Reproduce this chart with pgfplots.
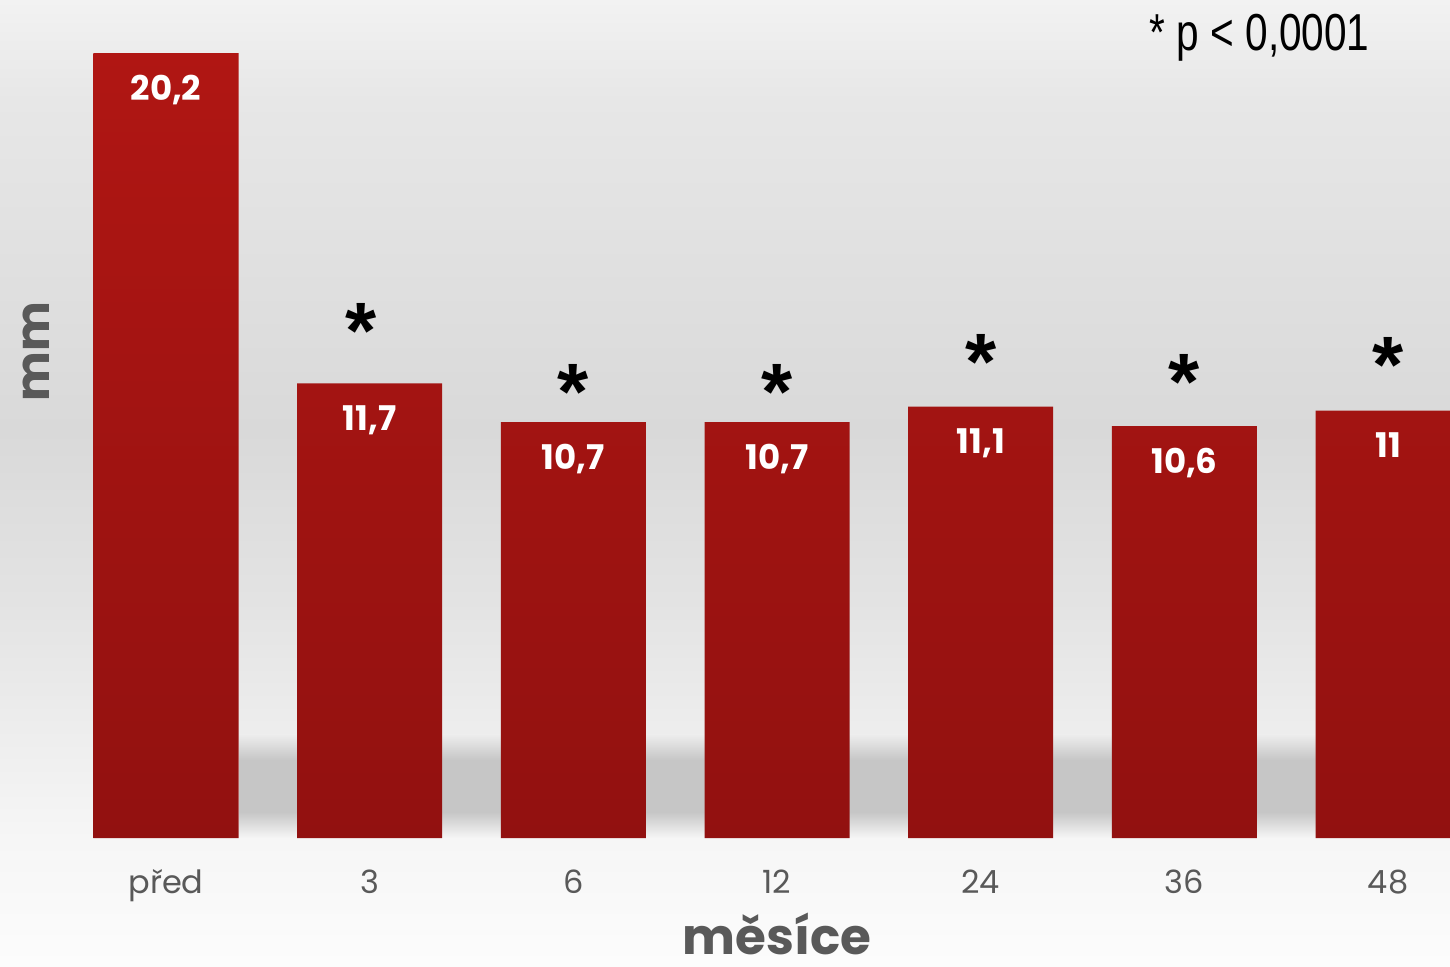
\documentclass[border=0pt]{standalone}
\usepackage{pgfplots}
\pgfplotsset{compat=1.18}
\usepackage{fontspec}
\setmainfont{Poppins}
\newfontfamily\narrowfont[FakeStretch=0.78]{Liberation Sans}
\newfontfamily\starfont{Liberation Sans}
\definecolor{lab}{HTML}{595959}
\definecolor{bartop}{HTML}{B01613}
\definecolor{barbot}{HTML}{921110}
\definecolor{shadowc}{HTML}{C6C6C6}
\definecolor{bgA}{HTML}{FCFCFC}
\definecolor{bgB}{HTML}{F6F6F6}
\definecolor{bgC}{HTML}{EEEEEE}
\definecolor{bgD}{HTML}{E3E3E3}
\definecolor{bgE}{HTML}{D9D9D9}
\definecolor{bgF}{HTML}{E7E7E7}
\definecolor{bgG}{HTML}{F2F2F2}
\pgfdeclareverticalshading{bgshade}{100bp}{color(0bp)=(bgA); color(25bp)=(bgA); color(31.52bp)=(bgB); color(36.7bp)=(bgC); color(43.94bp)=(bgD); color(52.74bp)=(bgE); color(69.82bp)=(bgF); color(75bp)=(bgG); color(100bp)=(bgG)}

\pgfplotstableread{
x y
0 20.2
1 11.7
2 10.7
3 10.7
4 11.1
5 10.6
6 11
}\datatable

\begin{document}
\begin{tikzpicture}
% background
\shade[shading=bgshade] (0,-64pt) rectangle (725pt,419pt);
% soft floor shadow band
\shade[top color=bgC, bottom color=shadowc] (119.5pt,52pt) rectangle (725pt,39pt);
\fill[shadowc] (119.5pt,39pt) rectangle (725pt,13pt);
\shade[top color=shadowc, bottom color=bgB] (119.5pt,13pt) rectangle (725pt,0pt);
\begin{axis}[
  at={(0,0)}, anchor=south west,
  scale only axis, width=725pt, height=419pt,
  xmin=-0.815, xmax=6.304, ymin=0, ymax=21.564,
  axis line style={draw=none},
  major tick length=0pt,
  ytick=\empty,
  xtick={0,1,2,3,4,5,6},
  xticklabels={před,3,6,12,24,36,48},
  xticklabel style={font=\fontsize{16}{18}\selectfont, text=lab, anchor=base, yshift=-27.5pt},
  xlabel={měsíce},
  xlabel style={font=\bfseries\fontsize{25}{25}\selectfont, text=lab, at={(axis description cs:0.536,0)}, anchor=base, yshift=-58pt},
  ylabel={mm},
  ylabel style={font=\bfseries\fontsize{23.5}{24}\selectfont, text=lab, at={(axis description cs:0.0338,0.58)}, anchor=base},
  /pgf/number format/use comma,
  /pgf/number format/assume math mode=true,
  ybar, bar width=0.712,
  nodes near coords,
  nodes near coords align={below},
  every node near coord/.append style={font=\bfseries\fontsize{17}{18}\selectfont, text=white, inner sep=0pt, yshift=-11pt},
]
\addplot[draw=none, top color=bartop, bottom color=barbot] table[x=x,y=y] {\datatable};
\node[font=\starfont\bfseries\fontsize{40}{40}\selectfont, anchor=north, inner sep=0pt] at (axis cs:0.957,13.77) {*};
\node[font=\starfont\bfseries\fontsize{40}{40}\selectfont, anchor=north, inner sep=0pt] at (axis cs:2,12.20) {*};
\node[font=\starfont\bfseries\fontsize{40}{40}\selectfont, anchor=north, inner sep=0pt] at (axis cs:3,12.20) {*};
\node[font=\starfont\bfseries\fontsize{40}{40}\selectfont, anchor=north, inner sep=0pt] at (axis cs:4,12.97) {*};
\node[font=\starfont\bfseries\fontsize{40}{40}\selectfont, anchor=north, inner sep=0pt] at (axis cs:5,12.46) {*};
\node[font=\starfont\bfseries\fontsize{40}{40}\selectfont, anchor=north, inner sep=0pt] at (axis cs:6,12.89) {*};
\node[font=\narrowfont\fontsize{26}{26}\selectfont, anchor=base east, inner sep=0pt] at (axis description cs:0.9448,0.9403) {* p < 0,0001};
\end{axis}
\pgfresetboundingbox
\path[use as bounding box] (0,-64pt) rectangle (725pt,419pt);
\end{tikzpicture}
\end{document}
